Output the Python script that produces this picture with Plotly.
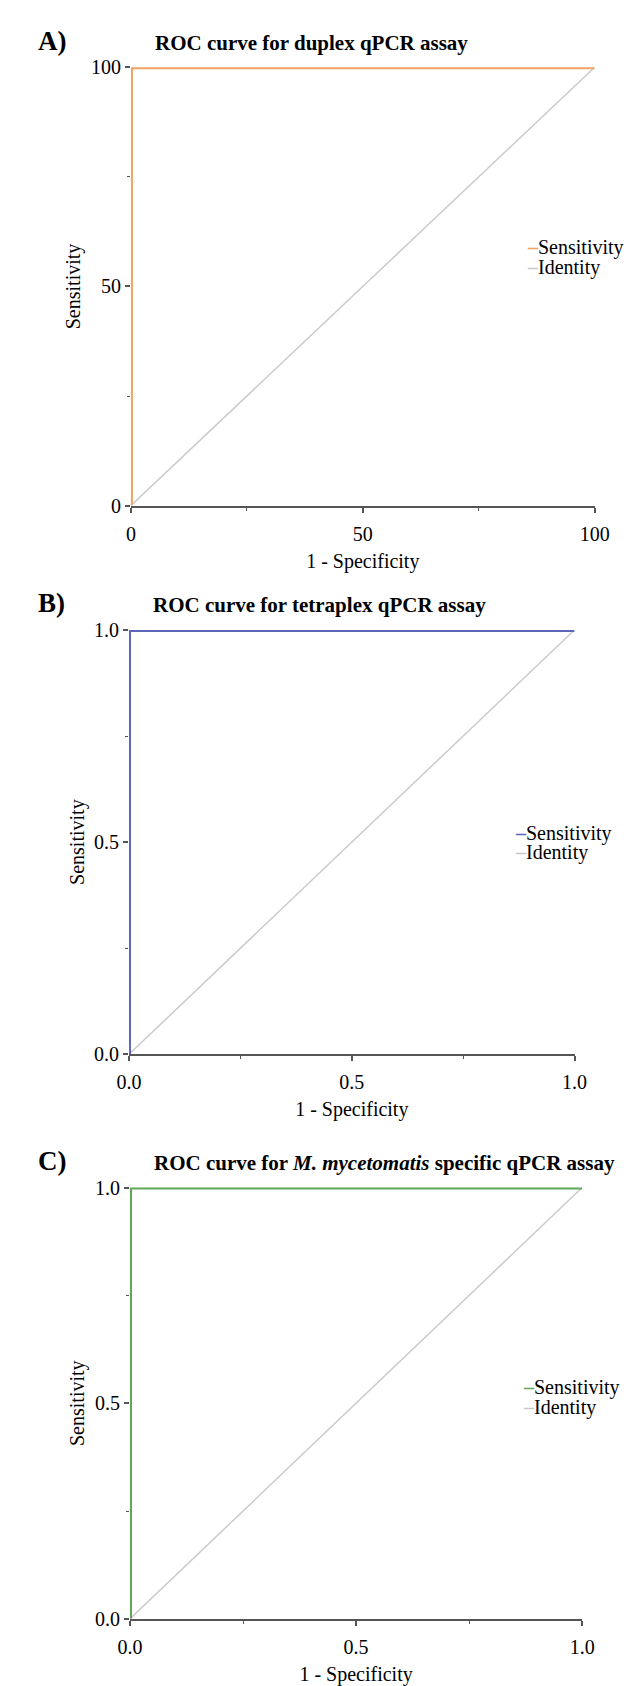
import plotly.graph_objects as go

W, H = 637, 1686

# datos de las curvas ROC
fpr_a = [0, 0, 100]
sens_a = [0, 100, 100]
ident_a = [0, 100]

fpr_b = [0.0, 0.0, 1.0]
sens_b = [0.0, 1.0, 1.0]
ident_b = [0.0, 1.0]

fpr_c = [0.0, 0.0, 1.0]
sens_c = [0.0, 1.0, 1.0]
ident_c = [0.0, 1.0]

ticks_a = [0, 50, 100]
minor_a = [25, 75]
ticks_bc = [0.0, 0.5, 1.0]
minor_bc = [0.25, 0.75]

titulos = [
    "<b>ROC curve for duplex qPCR assay</b>",
    "<b>ROC curve for tetraplex qPCR assay</b>",
    "<b>ROC curve for <i>M. mycetomatis</i> specific qPCR assay</b>",
]
letras = ["<b>A)</b>", "<b>B)</b>", "<b>C)</b>"]

naranja = "#F2A262"
azul = "#5B66B8"
verde = "#5FA858"
gris = "#CBCBCB"
eje = "#555555"
fuente = "Liberation Serif"


def px_x(p):
    return p / W


def px_y(p):
    return 1 - p / H


# cajas de cada panel en pixeles: izquierda, derecha, arriba, abajo
paneles = [
    (115, 600, 49, 493),
    (113, 579, 619, 1049),
    (114, 587, 1184, 1621),
]

series = [
    (fpr_a, sens_a, ident_a, naranja, [0, 100], ticks_a, minor_a, None),
    (fpr_b, sens_b, ident_b, azul, [0, 1], ticks_bc, minor_bc, ".1f"),
    (fpr_c, sens_c, ident_c, verde, [0, 1], ticks_bc, minor_bc, ".1f"),
]

fig = go.Figure()
anotaciones = []

for i, (caja, s) in enumerate(zip(paneles, series)):
    izq, der, arr, aba = caja
    fx, sy, idn, color, rango, tv, mv, fmt = s
    n = "" if i == 0 else str(i + 1)

    fig.add_trace(go.Scatter(
        x=idn, y=idn, mode="lines", name="Identity",
        line=dict(color=gris, width=1.5),
        xaxis="x" + n, yaxis="y" + n, showlegend=False,
    ))
    fig.add_trace(go.Scatter(
        x=fx, y=sy, mode="lines", name="Sensitivity",
        line=dict(color=color, width=4),
        xaxis="x" + n, yaxis="y" + n, showlegend=False,
    ))

    comun = dict(
        range=rango, tickvals=tv, ticks="outside", ticklen=5, tickwidth=1.5,
        tickcolor=eje, showgrid=False, zeroline=False,
        minor=dict(tickvals=mv, ticks="outside", ticklen=3, tickwidth=1.2, tickcolor=eje),
        tickfont=dict(family=fuente, size=20, color="black"),
        tickformat=fmt if fmt else "",
    )
    fig.update_layout({
        "xaxis" + n: dict(
            comun, domain=[px_x(izq), px_x(der)], anchor="y" + n,
            showline=True, linecolor=eje, linewidth=2,
            ticklabelstandoff=4,
            title=dict(text="1 - Specificity", standoff=10,
                       font=dict(family=fuente, size=20, color="black")),
        ),
        "yaxis" + n: dict(
            comun, domain=[px_y(aba), px_y(arr)], anchor="x" + n,
            showline=False,
            title=dict(text="Sensitivity", standoff=4,
                       font=dict(family=fuente, size=20, color="black")),
        ),
    })

    # titulo y letra del panel
    anotaciones.append(dict(
        text=titulos[i], x=px_x(izq + 23), y=px_y(arr - 25),
        xref="paper", yref="paper", xanchor="left", yanchor="middle",
        showarrow=False, font=dict(family=fuente, size=21, color="black"),
    ))
    anotaciones.append(dict(
        text=letras[i], x=px_x(16), y=px_y(arr - 27),
        xref="paper", yref="paper", xanchor="left", yanchor="middle",
        showarrow=False, font=dict(family=fuente, size=27, color="black"),
    ))

    # leyenda
    ley_x = [527, 515, 523][i]
    ley_y = [232, 825, 1387][i]
    for j, (etq, col) in enumerate([("Sensitivity", color), ("Identity", gris)]):
        anotaciones.append(dict(
            text="<span style='color:%s'><b>–</b></span>%s" % (col, etq),
            x=px_x(ley_x), y=px_y(ley_y + 20 * j),
            xref="paper", yref="paper", xanchor="left", yanchor="middle",
            showarrow=False, font=dict(family=fuente, size=20, color="black"),
        ))

fig.update_layout(
    width=W, height=H,
    margin=dict(l=0, r=0, t=0, b=0),
    paper_bgcolor="white", plot_bgcolor="white",
    annotations=anotaciones,
    showlegend=False,
)

fig.write_html("out.html")
